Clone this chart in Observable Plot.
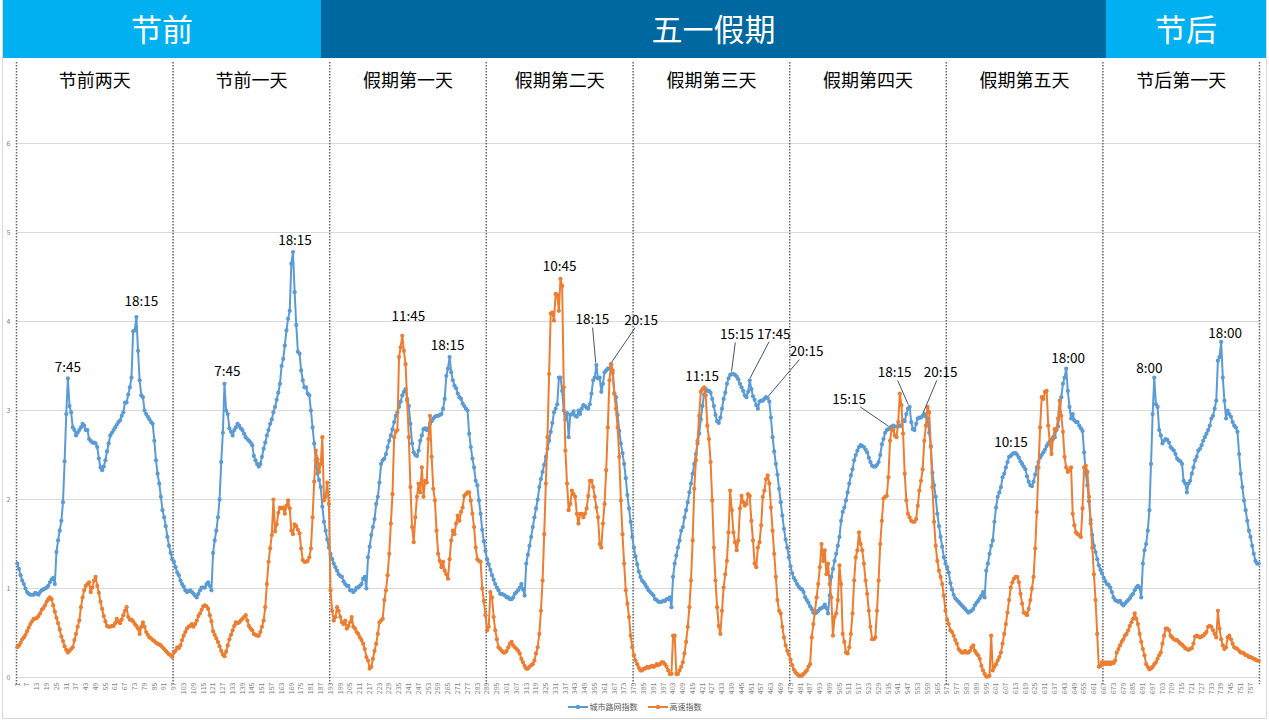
<!DOCTYPE html>
<html><head><meta charset="utf-8">
<script src="https://cdn.jsdelivr.net/npm/d3@7"></script>
<script src="https://cdn.jsdelivr.net/npm/@observablehq/plot@0.6"></script>
<style>
html,body{margin:0;padding:0;background:#fff;}
#wrap{position:relative;width:1269px;height:720px;overflow:hidden;font-family:"Noto Sans CJK SC",sans-serif;}
#frame{position:absolute;left:2px;top:0;width:1265px;height:719px;border:1px solid #d9d9d9;box-sizing:border-box;}
.banner{position:absolute;top:0;height:58px;padding-bottom:4px;box-sizing:border-box;color:#fff;font-size:31px;display:flex;align-items:center;justify-content:center;}
#chart{position:absolute;left:0;top:0;}
#legend{position:absolute;top:701px;left:0;width:1269px;display:flex;justify-content:center;align-items:center;font-size:8px;color:#595959;gap:10px;}
#legend .item{display:flex;align-items:center;gap:2px;}
</style></head>
<body>
<div id="wrap">
  <div id="frame"></div>
  <div id="chart"></div>
  <div class="banner" style="left:3px;width:318px;background:#00B0F0;">节前</div>
  <div class="banner" style="left:321px;width:785px;background:#0068A0;">五一假期</div>
  <div class="banner" style="left:1106px;width:160px;background:#00B0F0;">节后</div>
  <div id="legend"></div>
</div>
<script>
const seriesNames = ["城市路网指数", "高速指数"];
const seriesColors = ["#5B9BD5", "#ED7D31"];
const dayLabels = ["节前两天","节前一天","假期第一天","假期第二天","假期第三天","假期第四天","假期第五天","节后第一天"];

const cityD1 = [1.28,1.22,1.15,1.09,1.05,1.00,0.96,0.94,0.93,0.93,
0.93,0.95,0.94,0.93,0.96,0.98,0.99,1.00,1.01,1.03,
1.07,1.10,1.12,1.05,1.41,1.54,1.65,1.76,1.97,2.43,
2.96,3.36,3.05,2.98,2.81,2.78,2.72,2.75,2.78,2.81,
2.85,2.83,2.78,2.78,2.68,2.66,2.64,2.64,2.63,2.59,
2.46,2.36,2.33,2.37,2.44,2.54,2.63,2.72,2.75,2.78,
2.81,2.84,2.87,2.89,2.94,2.98,3.09,3.09,3.18,3.26,
3.37,3.89,3.90,4.05,3.67,3.34,3.17,3.15,3.00,2.96,
2.93,2.90,2.87,2.85,2.66,2.44,2.29,2.18,2.03,1.88,
1.80,1.70,1.58,1.48,1.40,1.33];
const cityD2 = [1.30,1.24,1.18,1.15,1.09,1.05,1.02,0.98,0.96,0.97,
0.98,0.96,0.94,0.92,0.90,0.94,0.98,1.01,1.01,1.01,
1.05,1.07,1.03,0.98,1.40,1.54,1.65,1.80,2.00,2.42,
2.75,3.30,3.00,2.96,2.80,2.76,2.72,2.78,2.81,2.85,
2.83,2.80,2.78,2.74,2.70,2.68,2.66,2.64,2.61,2.49,
2.44,2.40,2.37,2.40,2.48,2.57,2.64,2.72,2.78,2.85,
2.90,2.98,3.04,3.12,3.20,3.30,3.50,3.58,3.73,3.90,
4.03,4.12,4.65,4.78,4.33,3.96,3.66,3.64,3.45,3.34,
3.26,3.26,3.19,3.17,3.00,2.81,2.63,2.44,2.29,2.22,
2.14,1.92,1.75,1.65,1.55,1.46];
const cityD3 = [1.39,1.33,1.28,1.24,1.20,1.16,1.14,1.13,1.08,1.05,
1.03,1.03,0.98,0.98,0.96,0.98,1.01,1.01,1.03,1.05,
1.11,1.13,1.00,1.35,1.47,1.60,1.69,1.78,1.95,2.03,
2.19,2.40,2.44,2.46,2.51,2.59,2.66,2.72,2.79,2.87,
2.94,2.98,3.04,3.10,3.17,3.21,3.24,3.13,3.05,2.85,
2.63,2.53,2.50,2.49,2.55,2.66,2.72,2.79,2.80,2.78,
2.80,2.85,2.88,2.91,2.93,2.94,2.94,2.95,2.96,3.02,
3.13,3.39,3.47,3.60,3.43,3.34,3.28,3.25,3.19,3.15,
3.13,3.08,3.05,3.02,3.00,2.74,2.59,2.46,2.36,2.21,
2.16,1.99,1.84,1.66,1.53,1.42];
const cityD4 = [1.33,1.27,1.21,1.15,1.10,1.05,1.01,0.98,0.94,0.94,
0.93,0.92,0.90,0.90,0.88,0.88,0.90,0.94,0.96,0.98,
1.01,1.05,0.99,0.92,1.28,1.38,1.48,1.58,1.69,1.80,
1.90,2.00,2.14,2.23,2.31,2.39,2.48,2.57,2.66,2.76,
2.86,2.98,3.02,3.07,3.37,3.37,3.22,3.00,2.90,2.97,
2.70,2.95,2.96,2.99,2.94,2.93,3.00,2.96,3.02,3.06,
3.05,3.03,3.02,3.07,3.19,3.34,3.37,3.51,3.36,3.37,
3.21,3.30,3.43,3.45,3.47,3.47,3.52,3.42,3.19,3.15,
2.95,2.77,2.63,2.52,2.40,2.24,2.05,1.90,1.75,1.58];
const cityD5 = [1.46,1.36,1.27,1.19,1.13,1.09,
1.07,1.04,1.01,0.98,0.96,0.94,0.92,0.88,0.87,0.85,
0.85,0.85,0.86,0.86,0.88,0.88,0.90,0.79,1.13,1.28,
1.37,1.46,1.54,1.65,1.69,1.80,1.88,1.97,2.08,2.18,
2.29,2.40,2.51,2.63,2.74,2.90,3.05,3.18,3.24,3.22,
3.22,3.20,3.13,3.05,2.95,2.88,2.86,2.92,3.02,3.13,
3.20,3.30,3.36,3.40,3.41,3.41,3.40,3.38,3.35,3.30,
3.26,3.22,3.17,3.15,3.21,3.34,3.24,3.16,3.12,3.06,
3.02,3.10,3.11,3.11,3.13,3.15,3.14,3.10,2.92,2.70,
2.54,2.40,2.28,2.12,1.97,1.82,1.67,1.55,1.46,1.35];
const cityD6 = [1.25,1.17,1.12,1.09,1.05,1.02,
1.00,0.99,0.96,0.90,0.87,0.84,0.80,0.77,0.73,0.72,
0.73,0.75,0.77,0.78,0.79,0.82,0.78,0.72,0.92,1.13,
1.22,1.31,1.39,1.48,1.58,1.76,1.86,1.91,1.99,2.08,
2.18,2.27,2.34,2.44,2.50,2.55,2.59,2.61,2.60,2.59,
2.56,2.53,2.47,2.42,2.38,2.37,2.37,2.39,2.42,2.50,
2.62,2.68,2.75,2.78,2.79,2.81,2.82,2.83,2.82,2.82,
2.82,2.83,2.83,2.89,2.88,2.96,3.02,3.04,2.87,2.79,
2.78,2.85,2.91,2.92,2.92,2.94,2.96,2.93,2.91,2.75,
2.60,2.30,2.16,2.03,1.84,1.70,1.58,1.47,1.35,1.28];
const cityD7 = [1.24,1.18,1.06,0.99,0.93,0.89,
0.87,0.85,0.83,0.81,0.79,0.77,0.75,0.73,0.74,0.75,
0.77,0.81,0.84,0.86,0.89,0.92,0.96,0.90,1.20,1.28,
1.39,1.48,1.54,1.75,1.91,2.03,2.08,2.14,2.25,2.29,
2.36,2.42,2.48,2.49,2.51,2.52,2.52,2.50,2.47,2.43,
2.40,2.37,2.34,2.26,2.20,2.16,2.15,2.20,2.28,2.36,
2.42,2.47,2.50,2.53,2.56,2.60,2.63,2.65,2.67,2.68,
2.70,2.78,2.82,2.98,3.15,3.30,3.37,3.47,3.22,3.04,
2.91,2.96,2.89,2.87,2.87,2.83,2.80,2.77,2.53,2.30,
2.16,1.98,1.77,1.60,1.48,1.41,1.33,1.26,1.21,1.17];
const cityD8 = [1.12,1.08,1.05,1.04,1.01,0.96,
0.90,0.87,0.86,0.85,0.86,0.83,0.81,0.83,0.85,0.87,
0.89,0.92,0.94,0.98,1.01,1.03,1.01,0.90,1.28,1.43,
1.50,1.65,1.88,2.40,2.96,3.37,3.07,3.04,2.78,2.72,
2.63,2.66,2.68,2.67,2.64,2.59,2.57,2.55,2.51,2.46,
2.44,2.43,2.40,2.21,2.18,2.08,2.18,2.21,2.29,2.36,
2.44,2.48,2.55,2.57,2.61,2.66,2.70,2.74,2.78,2.83,
2.91,2.94,3.02,3.11,3.56,3.60,3.77,3.37,3.11,2.91,
3.00,2.96,2.93,2.87,2.83,2.81,2.76,2.51,2.29,2.14,
1.99,1.88,1.76,1.65,1.58,1.48,1.39,1.31,1.28,1.28];

const hwD1 = [0.34,0.36,0.39,0.43,0.45,0.48,0.52,0.56,0.60,0.63,
0.66,0.66,0.67,0.69,0.72,0.76,0.78,0.81,0.85,0.88,
0.90,0.88,0.81,0.74,0.67,0.61,0.54,0.46,0.41,0.35,
0.31,0.28,0.30,0.32,0.34,0.42,0.49,0.57,0.64,0.79,
0.90,0.98,1.03,1.05,1.07,0.96,1.01,1.09,1.13,1.03,
0.95,0.85,0.77,0.69,0.63,0.58,0.57,0.57,0.58,0.58,
0.61,0.66,0.63,0.61,0.65,0.70,0.75,0.79,0.68,0.65,
0.65,0.63,0.60,0.58,0.55,0.49,0.57,0.62,0.57,0.51,
0.48,0.45,0.44,0.42,0.41,0.39,0.38,0.37,0.36,0.34,
0.32,0.30,0.28,0.26,0.25,0.23];
const hwD2 = [0.28,0.30,0.34,0.33,0.36,0.42,0.47,0.51,0.55,0.57,
0.58,0.60,0.57,0.60,0.64,0.69,0.72,0.76,0.80,0.81,
0.80,0.77,0.70,0.63,0.52,0.48,0.44,0.40,0.35,0.30,
0.26,0.24,0.29,0.36,0.43,0.48,0.53,0.58,0.62,0.61,
0.62,0.64,0.66,0.68,0.70,0.64,0.58,0.55,0.53,0.49,
0.48,0.47,0.47,0.51,0.57,0.64,0.79,1.05,1.30,1.45,
1.60,2.00,1.64,1.72,1.85,1.91,1.90,1.91,1.84,1.93,
1.99,1.90,1.65,1.61,1.72,1.70,1.66,1.62,1.45,1.32,
1.30,1.30,1.31,1.35,1.45,1.80,2.20,2.55,2.45,2.31,
2.40,2.70,1.99,2.03,2.19,1.95];
const hwD3 = [0.98,0.75,0.64,0.68,0.79,0.75,0.68,0.62,0.60,0.64,
0.55,0.58,0.62,0.68,0.57,0.55,0.51,0.49,0.45,0.42,
0.38,0.32,0.23,0.19,0.10,0.12,0.21,0.30,0.38,0.49,
0.62,0.64,0.66,0.87,0.98,1.15,1.39,1.73,2.06,2.70,
2.76,2.78,3.60,3.71,3.84,3.67,3.52,3.11,2.70,2.14,
1.69,1.52,1.80,2.03,2.18,2.08,2.36,2.03,2.21,2.19,
2.68,2.94,2.48,2.12,1.99,1.65,1.39,1.31,1.24,1.30,
1.20,1.16,1.11,1.33,1.54,1.65,1.61,1.73,1.82,1.76,
1.86,1.91,2.04,2.06,2.08,2.08,1.99,1.84,1.69,1.46,
1.33,1.31,1.30,1.00,0.86,0.70];
const hwD4 = [0.53,0.57,0.96,0.90,0.68,0.53,0.43,0.34,0.32,0.30,
0.28,0.28,0.30,0.34,0.38,0.40,0.36,0.34,0.32,0.30,
0.27,0.21,0.17,0.13,0.10,0.10,0.12,0.14,0.15,0.19,
0.27,0.34,0.49,0.75,1.09,1.61,2.18,2.70,3.41,4.09,
4.10,4.01,4.31,4.30,4.12,4.48,4.40,3.26,2.55,2.18,
1.88,1.95,2.10,2.06,2.03,1.84,1.73,1.84,1.84,1.80,
1.84,1.90,2.04,2.21,2.21,2.14,2.03,1.91,1.80,1.50,
1.46,1.73,1.95,2.33,2.81,3.34,3.52,3.45,3.19,3.02,
2.81,2.48,1.99,1.61,1.28,0.98,0.83,0.68,0.47,0.34];
const hwD5 = [0.25,0.19,0.15,0.11,0.08,0.08,
0.10,0.10,0.12,0.11,0.12,0.13,0.12,0.13,0.15,0.14,
0.15,0.17,0.17,0.15,0.12,0.08,0.04,0.04,0.47,0.47,
0.04,0.04,0.08,0.12,0.17,0.27,0.40,0.57,0.79,1.09,
1.54,2.12,2.44,2.66,2.94,3.21,3.24,3.26,3.17,2.83,
2.68,2.42,1.99,1.46,1.09,0.79,0.58,0.49,0.75,1.01,
1.16,1.31,1.63,2.10,1.88,1.63,1.52,1.43,1.54,1.90,
2.04,1.97,1.93,1.95,2.06,2.04,1.76,1.54,1.28,1.24,
1.46,1.52,1.71,2.03,2.10,2.23,2.27,2.18,1.91,1.65,
1.39,1.13,0.87,0.75,0.72,0.57,0.45,0.36,0.30,0.26];
const hwD6 = [0.20,0.14,0.09,0.06,0.04,0.02,
0.02,0.02,0.04,0.06,0.08,0.12,0.15,0.45,0.60,0.75,
0.90,1.05,1.24,1.50,1.31,1.43,1.16,1.28,1.05,0.90,
0.47,0.68,0.72,0.87,1.26,1.05,0.49,0.40,0.28,0.27,
0.34,0.49,0.72,1.09,1.35,1.43,1.63,1.50,1.43,1.28,
1.09,0.94,0.75,0.57,0.43,0.43,0.45,0.75,1.09,1.50,
1.76,2.01,2.03,2.04,2.25,2.66,2.79,2.78,2.72,2.70,
2.87,3.19,3.06,2.74,2.29,1.99,1.84,1.80,1.76,1.75,
1.75,1.78,1.93,2.10,2.21,2.34,2.66,2.83,3.04,2.98,
2.59,2.14,1.75,1.48,1.31,1.20,1.13,1.05,0.92,0.75];
const hwD7 = [0.65,0.60,0.53,0.51,0.47,0.42,
0.38,0.32,0.30,0.28,0.28,0.30,0.28,0.28,0.30,0.34,
0.36,0.30,0.27,0.25,0.21,0.13,0.08,0.04,0.01,0.01,
0.02,0.47,0.08,0.12,0.15,0.19,0.23,0.28,0.38,0.49,
0.60,0.73,0.87,1.01,1.07,1.11,1.13,1.13,1.07,0.94,
0.83,0.73,0.72,0.70,0.77,0.87,1.00,1.13,1.45,1.86,
2.36,2.81,3.15,3.13,3.21,3.22,2.83,2.63,2.51,2.70,
2.79,2.79,2.91,3.11,2.94,2.76,2.48,2.36,2.31,2.33,
2.36,1.84,1.71,1.63,1.61,1.60,1.58,1.90,2.36,2.38,
2.31,2.03,1.73,1.46,1.16,0.87,0.49,0.12,0.13,0.17];
const hwD8 = [0.15,0.17,0.15,0.17,0.15,0.17,
0.16,0.19,0.28,0.32,0.36,0.40,0.43,0.47,0.49,0.53,
0.58,0.62,0.66,0.72,0.66,0.60,0.49,0.40,0.32,0.25,
0.15,0.12,0.09,0.10,0.12,0.15,0.17,0.21,0.25,0.28,
0.38,0.47,0.55,0.55,0.53,0.47,0.45,0.43,0.42,0.42,
0.40,0.38,0.37,0.35,0.33,0.32,0.31,0.32,0.33,0.38,
0.46,0.47,0.46,0.45,0.46,0.47,0.49,0.51,0.57,0.58,
0.57,0.53,0.49,0.45,0.75,0.55,0.43,0.36,0.32,0.34,
0.45,0.47,0.43,0.38,0.34,0.33,0.32,0.30,0.28,0.28,
0.27,0.25,0.25,0.23,0.23,0.22,0.21,0.20,0.19,0.19];

// peak annotations: day (1-based), point index within that day, series (0 city / 1 highway), label
const annDay    = [1,1,2,2,3,3,4,4,4,5,5,5,5,6,6,6,7,7,8,8];
const annIdx    = [31,73,31,73,44,73,45,67,76,43,60,71,82,61,73,81,41,73,31,72];
const annSeries = [0,0,0,0,1,0,1,0,0,1,0,0,0,0,0,0,0,0,0,0];
const annText   = ["7:45","18:15","7:45","18:15","11:45","18:15","10:45","18:15","20:15","11:15","15:15","17:45","20:15","15:15","18:15","20:15","10:15","18:00","8:00","18:00"];
// label placement (pixel offsets from the point) and whether a leader line is drawn
const annLayout = [[0,-11,0],[5,-15,0],[3,-12,0],[2,-11,0],[6,-19,0],[-2,-11,0],[-1,-12,0],[-4,-45,1],[30,-44,1],
  [-2,-11,0],[5,-39,1],[24,-46,1],[39,-46,1],[-41,-28,1],[-15,-34,1],[18,-43,1],[-3,-11,0],[2,-10,0],[-5,-9,0],[4,-8,0]];

const cityDays = [cityD1,cityD2,cityD3,cityD4,cityD5,cityD6,cityD7,cityD8];
const hwDays = [hwD1,hwD2,hwD3,hwD4,hwD5,hwD6,hwD7,hwD8];

const rows = [[], []];
const dayStart = [];
let n = 0;
cityDays.forEach((day, d) => {
  dayStart.push(n);
  day.forEach((v, i) => {
    rows[0].push({g: n + i, v, s: seriesNames[0]});
    rows[1].push({g: n + i, v: hwDays[d][i], s: seriesNames[1]});
  });
  n += day.length;
});
const total = n;
const bounds = [...dayStart, total].map(b => b - 0.5);
const dayMid = dayStart.map((s, d) => ({x: s + (cityDays[d].length - 1) / 2, label: dayLabels[d]}));

const ann = annText.map((t, k) => {
  const d = annDay[k] - 1, i = annIdx[k], sIdx = annSeries[k];
  const src = sIdx === 0 ? cityDays : hwDays;
  return {g: dayStart[d] + i, v: src[d][i], label: t, dx: annLayout[k][0], dy: annLayout[k][1], leader: annLayout[k][2]};
});

function leaderMark(index, scales) {
  const g = d3.create("svg:g").attr("stroke", "#44546A").attr("stroke-width", 1).attr("fill", "none");
  for (const a of ann) {
    if (!a.leader) continue;
    const px = scales.x(a.g), py = scales.y(a.v);
    const cx = px + a.dx, cy = py + a.dy;
    const vx = px - cx, vy = py - cy;
    const t = Math.min(vx ? Math.abs(17 / vx) : Infinity, vy ? Math.abs(8 / vy) : Infinity);
    const len = Math.hypot(vx, vy);
    g.append("line")
      .attr("x1", cx + vx * t).attr("y1", cy + vy * t)
      .attr("x2", px - vx / len * 2).attr("y2", py - vy / len * 2);
  }
  return g.node();
}

const color = {domain: seriesNames, range: seriesColors};

const chart = Plot.plot({
  width: 1269,
  height: 720,
  marginTop: 143,
  marginBottom: 43,
  marginLeft: 16,
  marginRight: 10,
  style: {fontFamily: "'Noto Sans CJK SC', sans-serif", background: "transparent", overflow: "visible"},
  x: {domain: [-0.5, total - 0.5], axis: null},
  y: {domain: [0, 6], axis: null},
  color,
  marks: [
    Plot.ruleY(d3.range(0, 7), {stroke: "#d9d9d9", strokeWidth: 1}),
    Plot.axisY(d3.range(0, 7), {tickSize: 0, tickPadding: 6, fontSize: 7, color: "#7f7f7f", tickFormat: d => String(d)}),
    Plot.axisX(d3.range(0, total, 6), {tickRotate: -90, tickSize: 0, tickPadding: 5, fontSize: 7, color: "#7f7f7f", tickFormat: d => String(d + 1)}),
    Plot.ruleX(bounds, {stroke: "#666", strokeWidth: 1.5, strokeDasharray: "1.5,1.5", insetTop: -81, insetBottom: -7}),
    Plot.text(dayMid, {x: "x", text: "label", frameAnchor: "top", dy: -69, fontSize: 18, fill: "#000"}),
    Plot.line(rows[0], {x: "g", y: "v", stroke: "s", strokeWidth: 2}),
    Plot.dot(rows[0], {x: "g", y: "v", fill: "s", r: 2.1}),
    Plot.line(rows[1], {x: "g", y: "v", stroke: "s", strokeWidth: 2}),
    Plot.dot(rows[1], {x: "g", y: "v", fill: "s", r: 2.1}),
    leaderMark,
    ...ann.map(a => Plot.text([a], {x: "g", y: "v", text: "label", dx: a.dx, dy: a.dy, fontSize: 13.5, fill: "#000"}))
  ]
});
document.getElementById("chart").appendChild(chart);

const legend = d3.select("#legend");
seriesNames.forEach((name, k) => {
  const item = legend.append("span").attr("class", "item");
  const sw = item.append("svg").attr("width", 20).attr("height", 8);
  sw.append("line").attr("x1", 0).attr("x2", 20).attr("y1", 4).attr("y2", 4).attr("stroke", seriesColors[k]).attr("stroke-width", 2);
  sw.append("circle").attr("cx", 10).attr("cy", 4).attr("r", 2.2).attr("fill", seriesColors[k]);
  item.append("span").text(name);
});
</script>
</body></html>
